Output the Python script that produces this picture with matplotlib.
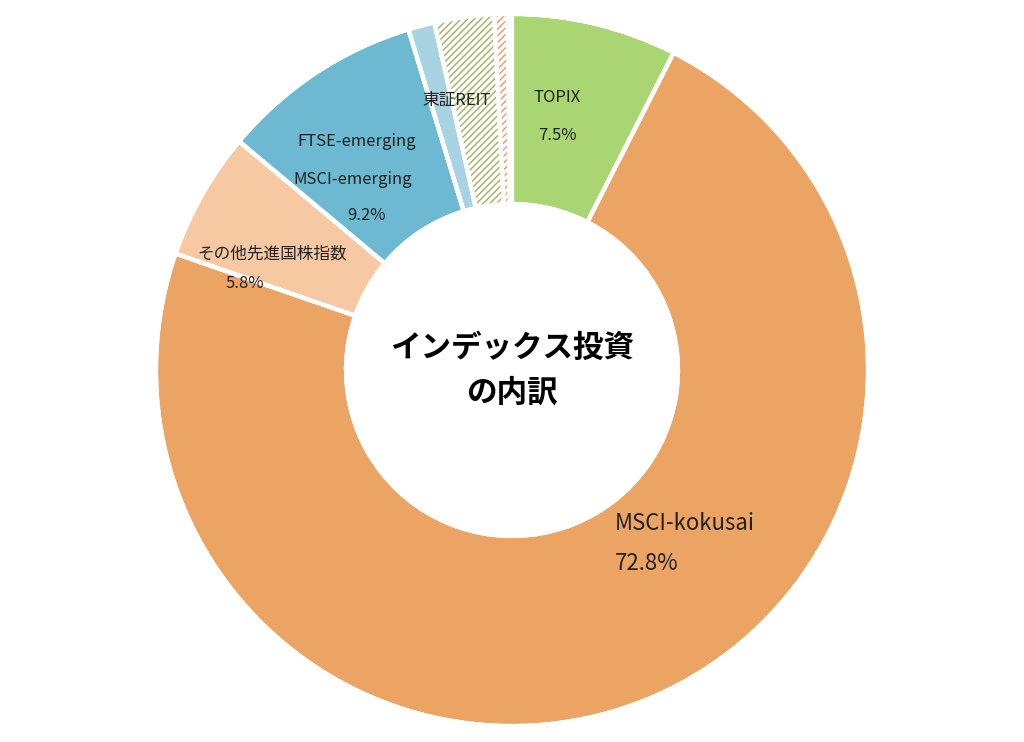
import matplotlib.pyplot as plt
import numpy as np

plt.rcParams['font.family'] = 'Noto Sans CJK JP'

labels = ['TOPIX', 'MSCI-kokusai', 'その他先進国株指数', 'MSCI-emerging', 'FTSE-emerging', '東証REIT', 'その他1', 'その他2']
values = [7.5, 72.8, 5.8, 9.2, 1.2, 2.7, 0.6, 0.2]
colors = ['#a9d672', '#eba464', '#f6c9a3', '#6cb9d1', '#a7d3e3', 'white', 'white', 'white']
hatches = [None, None, None, None, None, '/////', '/////', '....']
hatch_colors = [None, None, None, None, None, '#9fb25e', '#e89a68', '#8fb0c8']

fig = plt.figure(figsize=(10.24, 7.42), dpi=100)
ax = fig.add_axes([0, 0, 1, 1])
ax.set_xlim(0, 1024)
ax.set_ylim(0, 742)
ax.set_aspect('equal')
ax.axis('off')

cx, cy, R = 512, 372, 356
wedges, _ = ax.pie(values, colors=colors, startangle=90, counterclock=False,
                   center=(cx, cy), radius=R, frame=True,
                   wedgeprops=dict(width=R - 166, edgecolor='white', linewidth=3))
ax.set_xlim(0, 1024)
ax.set_ylim(0, 742)
ax.axis('off')
for w, h, hc in zip(wedges, hatches, hatch_colors):
    if h:
        w.set_hatch(h)
        w.set_edgecolor(hc)
        w.set_linewidth(0)
# white separators
ax.pie(values, colors=['none'] * len(values), startangle=90, counterclock=False,
       center=(cx, cy), radius=R, frame=True,
       wedgeprops=dict(width=R - 166, edgecolor='white', linewidth=3))
ax.set_xlim(0, 1024)
ax.set_ylim(0, 742)
ax.axis('off')

tc = '#222222'
ax.text(534, 644, 'TOPIX', fontsize=12, color=tc, va='center')
ax.text(538, 606, '7.5%', fontsize=12, color=tc, va='center')
ax.text(615, 218, 'MSCI-kokusai', fontsize=16, color=tc, va='center')
ax.text(615, 178, '72.8%', fontsize=16, color=tc, va='center')
ax.text(272, 488, 'その他先進国株指数', fontsize=12, color=tc, va='center', ha='center')
ax.text(245, 458, '5.8%', fontsize=12, color=tc, va='center', ha='center')
ax.text(357, 600, 'FTSE-emerging', fontsize=12, color=tc, va='center', ha='center')
ax.text(353, 562, 'MSCI-emerging', fontsize=12, color=tc, va='center', ha='center')
ax.text(366, 527, '9.2%', fontsize=12, color=tc, va='center', ha='center')
ax.text(457, 641, '東証REIT', fontsize=12, color=tc, va='center', ha='center')
ax.text(512, 372, 'インデックス投資\nの内訳', fontsize=22, fontweight='bold',
        color='black', va='center', ha='center', linespacing=1.5)

fig.savefig('out.png', dpi=100, facecolor='white')
